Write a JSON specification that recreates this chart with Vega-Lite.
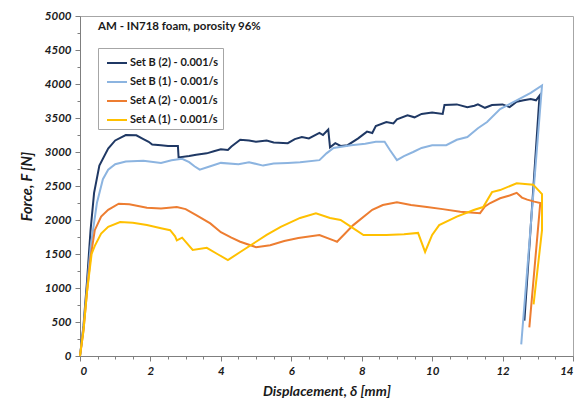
{
"$schema": "https://vega.github.io/schema/vega-lite/v6.json",
"width": 493, "height": 340, "autosize": "none",
"padding": {"left": 80, "top": 16, "right": 11, "bottom": 49},
"background": "white",
"config": {"view": {"stroke": "#A6A6A6", "strokeWidth": 1}, "font": "Lato",
 "axis": {"grid": false, "domainColor": "#7F7F7F", "tickColor": "#7F7F7F", "labelColor": "#1A1A1A", "titleColor": "#1A1A1A"}},
"title": {"text": "AM - IN718 foam, porosity 96%", "anchor": "start", "frame": "group", "orient": "top", "offset": 0, "dx": 18, "dy": 22, "fontSize": 11.5, "fontWeight": "bold", "color": "#1A1A1A", "font": "Lato"},
"data": {"values": [
{"s":"Set B (2) - 0.001/s","i":0,"x":0,"y":0},{"s":"Set B (2) - 0.001/s","i":1,"x":0.1,"y":450},{"s":"Set B (2) - 0.001/s","i":2,"x":0.2,"y":1100},{"s":"Set B (2) - 0.001/s","i":3,"x":0.3,"y":1850},{"s":"Set B (2) - 0.001/s","i":4,"x":0.4,"y":2400},{"s":"Set B (2) - 0.001/s","i":5,"x":0.55,"y":2800},{"s":"Set B (2) - 0.001/s","i":6,"x":0.8,"y":3050},{"s":"Set B (2) - 0.001/s","i":7,"x":1.0,"y":3170},{"s":"Set B (2) - 0.001/s","i":8,"x":1.3,"y":3250},{"s":"Set B (2) - 0.001/s","i":9,"x":1.6,"y":3245},{"s":"Set B (2) - 0.001/s","i":10,"x":1.8,"y":3190},{"s":"Set B (2) - 0.001/s","i":11,"x":1.95,"y":3150},{"s":"Set B (2) - 0.001/s","i":12,"x":2.05,"y":3110},{"s":"Set B (2) - 0.001/s","i":13,"x":2.3,"y":3100},{"s":"Set B (2) - 0.001/s","i":14,"x":2.5,"y":3090},{"s":"Set B (2) - 0.001/s","i":15,"x":2.78,"y":3090},{"s":"Set B (2) - 0.001/s","i":16,"x":2.8,"y":2920},{"s":"Set B (2) - 0.001/s","i":17,"x":3.1,"y":2940},{"s":"Set B (2) - 0.001/s","i":18,"x":3.3,"y":2960},{"s":"Set B (2) - 0.001/s","i":19,"x":3.6,"y":2980},{"s":"Set B (2) - 0.001/s","i":20,"x":3.8,"y":3010},{"s":"Set B (2) - 0.001/s","i":21,"x":4.0,"y":3040},{"s":"Set B (2) - 0.001/s","i":22,"x":4.2,"y":3030},{"s":"Set B (2) - 0.001/s","i":23,"x":4.3,"y":3080},{"s":"Set B (2) - 0.001/s","i":24,"x":4.55,"y":3180},{"s":"Set B (2) - 0.001/s","i":25,"x":4.8,"y":3170},{"s":"Set B (2) - 0.001/s","i":26,"x":5.0,"y":3150},{"s":"Set B (2) - 0.001/s","i":27,"x":5.3,"y":3170},{"s":"Set B (2) - 0.001/s","i":28,"x":5.5,"y":3140},{"s":"Set B (2) - 0.001/s","i":29,"x":5.9,"y":3130},{"s":"Set B (2) - 0.001/s","i":30,"x":6.1,"y":3190},{"s":"Set B (2) - 0.001/s","i":31,"x":6.3,"y":3220},{"s":"Set B (2) - 0.001/s","i":32,"x":6.5,"y":3200},{"s":"Set B (2) - 0.001/s","i":33,"x":6.8,"y":3280},{"s":"Set B (2) - 0.001/s","i":34,"x":6.9,"y":3250},{"s":"Set B (2) - 0.001/s","i":35,"x":7.05,"y":3330},{"s":"Set B (2) - 0.001/s","i":36,"x":7.1,"y":3070},{"s":"Set B (2) - 0.001/s","i":37,"x":7.25,"y":3130},{"s":"Set B (2) - 0.001/s","i":38,"x":7.4,"y":3090},{"s":"Set B (2) - 0.001/s","i":39,"x":7.6,"y":3100},{"s":"Set B (2) - 0.001/s","i":40,"x":7.9,"y":3200},{"s":"Set B (2) - 0.001/s","i":41,"x":8.15,"y":3300},{"s":"Set B (2) - 0.001/s","i":42,"x":8.3,"y":3280},{"s":"Set B (2) - 0.001/s","i":43,"x":8.4,"y":3380},{"s":"Set B (2) - 0.001/s","i":44,"x":8.7,"y":3440},{"s":"Set B (2) - 0.001/s","i":45,"x":8.9,"y":3420},{"s":"Set B (2) - 0.001/s","i":46,"x":9.0,"y":3480},{"s":"Set B (2) - 0.001/s","i":47,"x":9.3,"y":3540},{"s":"Set B (2) - 0.001/s","i":48,"x":9.5,"y":3510},{"s":"Set B (2) - 0.001/s","i":49,"x":9.7,"y":3560},{"s":"Set B (2) - 0.001/s","i":50,"x":10.0,"y":3580},{"s":"Set B (2) - 0.001/s","i":51,"x":10.3,"y":3560},{"s":"Set B (2) - 0.001/s","i":52,"x":10.35,"y":3690},{"s":"Set B (2) - 0.001/s","i":53,"x":10.7,"y":3700},{"s":"Set B (2) - 0.001/s","i":54,"x":11.0,"y":3660},{"s":"Set B (2) - 0.001/s","i":55,"x":11.2,"y":3680},{"s":"Set B (2) - 0.001/s","i":56,"x":11.3,"y":3700},{"s":"Set B (2) - 0.001/s","i":57,"x":11.5,"y":3650},{"s":"Set B (2) - 0.001/s","i":58,"x":11.7,"y":3690},{"s":"Set B (2) - 0.001/s","i":59,"x":12.0,"y":3700},{"s":"Set B (2) - 0.001/s","i":60,"x":12.2,"y":3660},{"s":"Set B (2) - 0.001/s","i":61,"x":12.4,"y":3740},{"s":"Set B (2) - 0.001/s","i":62,"x":12.6,"y":3760},{"s":"Set B (2) - 0.001/s","i":63,"x":12.8,"y":3780},{"s":"Set B (2) - 0.001/s","i":64,"x":12.95,"y":3760},{"s":"Set B (2) - 0.001/s","i":65,"x":13.05,"y":3830},{"s":"Set B (2) - 0.001/s","i":66,"x":12.62,"y":520},
{"s":"Set B (1) - 0.001/s","i":0,"x":0,"y":0},{"s":"Set B (1) - 0.001/s","i":1,"x":0.1,"y":420},{"s":"Set B (1) - 0.001/s","i":2,"x":0.2,"y":1000},{"s":"Set B (1) - 0.001/s","i":3,"x":0.3,"y":1600},{"s":"Set B (1) - 0.001/s","i":4,"x":0.48,"y":2250},{"s":"Set B (1) - 0.001/s","i":5,"x":0.65,"y":2600},{"s":"Set B (1) - 0.001/s","i":6,"x":0.8,"y":2740},{"s":"Set B (1) - 0.001/s","i":7,"x":1.0,"y":2820},{"s":"Set B (1) - 0.001/s","i":8,"x":1.3,"y":2860},{"s":"Set B (1) - 0.001/s","i":9,"x":1.8,"y":2870},{"s":"Set B (1) - 0.001/s","i":10,"x":2.3,"y":2840},{"s":"Set B (1) - 0.001/s","i":11,"x":2.6,"y":2880},{"s":"Set B (1) - 0.001/s","i":12,"x":2.9,"y":2900},{"s":"Set B (1) - 0.001/s","i":13,"x":3.1,"y":2850},{"s":"Set B (1) - 0.001/s","i":14,"x":3.25,"y":2790},{"s":"Set B (1) - 0.001/s","i":15,"x":3.4,"y":2740},{"s":"Set B (1) - 0.001/s","i":16,"x":3.7,"y":2790},{"s":"Set B (1) - 0.001/s","i":17,"x":4.0,"y":2840},{"s":"Set B (1) - 0.001/s","i":18,"x":4.5,"y":2820},{"s":"Set B (1) - 0.001/s","i":19,"x":4.8,"y":2850},{"s":"Set B (1) - 0.001/s","i":20,"x":5.2,"y":2800},{"s":"Set B (1) - 0.001/s","i":21,"x":5.5,"y":2830},{"s":"Set B (1) - 0.001/s","i":22,"x":5.9,"y":2840},{"s":"Set B (1) - 0.001/s","i":23,"x":6.25,"y":2850},{"s":"Set B (1) - 0.001/s","i":24,"x":6.8,"y":2880},{"s":"Set B (1) - 0.001/s","i":25,"x":7.0,"y":2980},{"s":"Set B (1) - 0.001/s","i":26,"x":7.2,"y":3060},{"s":"Set B (1) - 0.001/s","i":27,"x":7.7,"y":3100},{"s":"Set B (1) - 0.001/s","i":28,"x":8.1,"y":3120},{"s":"Set B (1) - 0.001/s","i":29,"x":8.4,"y":3150},{"s":"Set B (1) - 0.001/s","i":30,"x":8.65,"y":3150},{"s":"Set B (1) - 0.001/s","i":31,"x":8.8,"y":3030},{"s":"Set B (1) - 0.001/s","i":32,"x":9.0,"y":2880},{"s":"Set B (1) - 0.001/s","i":33,"x":9.2,"y":2940},{"s":"Set B (1) - 0.001/s","i":34,"x":9.46,"y":3000},{"s":"Set B (1) - 0.001/s","i":35,"x":9.7,"y":3060},{"s":"Set B (1) - 0.001/s","i":36,"x":10.0,"y":3100},{"s":"Set B (1) - 0.001/s","i":37,"x":10.4,"y":3100},{"s":"Set B (1) - 0.001/s","i":38,"x":10.7,"y":3180},{"s":"Set B (1) - 0.001/s","i":39,"x":11.0,"y":3220},{"s":"Set B (1) - 0.001/s","i":40,"x":11.3,"y":3350},{"s":"Set B (1) - 0.001/s","i":41,"x":11.56,"y":3440},{"s":"Set B (1) - 0.001/s","i":42,"x":11.93,"y":3630},{"s":"Set B (1) - 0.001/s","i":43,"x":12.4,"y":3760},{"s":"Set B (1) - 0.001/s","i":44,"x":12.8,"y":3870},{"s":"Set B (1) - 0.001/s","i":45,"x":13.12,"y":3980},{"s":"Set B (1) - 0.001/s","i":46,"x":12.53,"y":170},
{"s":"Set A (2) - 0.001/s","i":0,"x":0,"y":0},{"s":"Set A (2) - 0.001/s","i":1,"x":0.1,"y":380},{"s":"Set A (2) - 0.001/s","i":2,"x":0.2,"y":950},{"s":"Set A (2) - 0.001/s","i":3,"x":0.3,"y":1450},{"s":"Set A (2) - 0.001/s","i":4,"x":0.42,"y":1850},{"s":"Set A (2) - 0.001/s","i":5,"x":0.6,"y":2050},{"s":"Set A (2) - 0.001/s","i":6,"x":0.8,"y":2150},{"s":"Set A (2) - 0.001/s","i":7,"x":1.1,"y":2240},{"s":"Set A (2) - 0.001/s","i":8,"x":1.4,"y":2230},{"s":"Set A (2) - 0.001/s","i":9,"x":1.9,"y":2180},{"s":"Set A (2) - 0.001/s","i":10,"x":2.3,"y":2170},{"s":"Set A (2) - 0.001/s","i":11,"x":2.75,"y":2190},{"s":"Set A (2) - 0.001/s","i":12,"x":3.0,"y":2160},{"s":"Set A (2) - 0.001/s","i":13,"x":3.3,"y":2070},{"s":"Set A (2) - 0.001/s","i":14,"x":3.7,"y":1950},{"s":"Set A (2) - 0.001/s","i":15,"x":4.0,"y":1820},{"s":"Set A (2) - 0.001/s","i":16,"x":4.3,"y":1740},{"s":"Set A (2) - 0.001/s","i":17,"x":4.55,"y":1680},{"s":"Set A (2) - 0.001/s","i":18,"x":5.0,"y":1600},{"s":"Set A (2) - 0.001/s","i":19,"x":5.4,"y":1630},{"s":"Set A (2) - 0.001/s","i":20,"x":5.8,"y":1690},{"s":"Set A (2) - 0.001/s","i":21,"x":6.2,"y":1735},{"s":"Set A (2) - 0.001/s","i":22,"x":6.8,"y":1780},{"s":"Set A (2) - 0.001/s","i":23,"x":7.2,"y":1700},{"s":"Set A (2) - 0.001/s","i":24,"x":7.3,"y":1680},{"s":"Set A (2) - 0.001/s","i":25,"x":7.76,"y":1925},{"s":"Set A (2) - 0.001/s","i":26,"x":8.3,"y":2150},{"s":"Set A (2) - 0.001/s","i":27,"x":8.6,"y":2220},{"s":"Set A (2) - 0.001/s","i":28,"x":9.0,"y":2260},{"s":"Set A (2) - 0.001/s","i":29,"x":9.4,"y":2220},{"s":"Set A (2) - 0.001/s","i":30,"x":9.85,"y":2190},{"s":"Set A (2) - 0.001/s","i":31,"x":10.3,"y":2160},{"s":"Set A (2) - 0.001/s","i":32,"x":10.8,"y":2120},{"s":"Set A (2) - 0.001/s","i":33,"x":11.36,"y":2100},{"s":"Set A (2) - 0.001/s","i":34,"x":11.5,"y":2200},{"s":"Set A (2) - 0.001/s","i":35,"x":11.65,"y":2250},{"s":"Set A (2) - 0.001/s","i":36,"x":11.93,"y":2320},{"s":"Set A (2) - 0.001/s","i":37,"x":12.2,"y":2360},{"s":"Set A (2) - 0.001/s","i":38,"x":12.4,"y":2400},{"s":"Set A (2) - 0.001/s","i":39,"x":12.55,"y":2330},{"s":"Set A (2) - 0.001/s","i":40,"x":12.7,"y":2300},{"s":"Set A (2) - 0.001/s","i":41,"x":12.9,"y":2270},{"s":"Set A (2) - 0.001/s","i":42,"x":13.07,"y":2250},{"s":"Set A (2) - 0.001/s","i":43,"x":12.76,"y":420},
{"s":"Set A (1) - 0.001/s","i":0,"x":0,"y":0},{"s":"Set A (1) - 0.001/s","i":1,"x":0.1,"y":380},{"s":"Set A (1) - 0.001/s","i":2,"x":0.2,"y":950},{"s":"Set A (1) - 0.001/s","i":3,"x":0.33,"y":1500},{"s":"Set A (1) - 0.001/s","i":4,"x":0.42,"y":1620},{"s":"Set A (1) - 0.001/s","i":5,"x":0.6,"y":1800},{"s":"Set A (1) - 0.001/s","i":6,"x":0.8,"y":1900},{"s":"Set A (1) - 0.001/s","i":7,"x":1.14,"y":1970},{"s":"Set A (1) - 0.001/s","i":8,"x":1.5,"y":1960},{"s":"Set A (1) - 0.001/s","i":9,"x":1.9,"y":1925},{"s":"Set A (1) - 0.001/s","i":10,"x":2.3,"y":1880},{"s":"Set A (1) - 0.001/s","i":11,"x":2.56,"y":1850},{"s":"Set A (1) - 0.001/s","i":12,"x":2.7,"y":1760},{"s":"Set A (1) - 0.001/s","i":13,"x":2.75,"y":1700},{"s":"Set A (1) - 0.001/s","i":14,"x":2.9,"y":1740},{"s":"Set A (1) - 0.001/s","i":15,"x":3.2,"y":1560},{"s":"Set A (1) - 0.001/s","i":16,"x":3.6,"y":1590},{"s":"Set A (1) - 0.001/s","i":17,"x":3.9,"y":1500},{"s":"Set A (1) - 0.001/s","i":18,"x":4.2,"y":1410},{"s":"Set A (1) - 0.001/s","i":19,"x":4.55,"y":1530},{"s":"Set A (1) - 0.001/s","i":20,"x":5.0,"y":1680},{"s":"Set A (1) - 0.001/s","i":21,"x":5.3,"y":1780},{"s":"Set A (1) - 0.001/s","i":22,"x":5.7,"y":1900},{"s":"Set A (1) - 0.001/s","i":23,"x":6.25,"y":2030},{"s":"Set A (1) - 0.001/s","i":24,"x":6.7,"y":2100},{"s":"Set A (1) - 0.001/s","i":25,"x":7.1,"y":2030},{"s":"Set A (1) - 0.001/s","i":26,"x":7.4,"y":2000},{"s":"Set A (1) - 0.001/s","i":27,"x":7.7,"y":1900},{"s":"Set A (1) - 0.001/s","i":28,"x":8.05,"y":1780},{"s":"Set A (1) - 0.001/s","i":29,"x":8.7,"y":1780},{"s":"Set A (1) - 0.001/s","i":30,"x":9.2,"y":1790},{"s":"Set A (1) - 0.001/s","i":31,"x":9.6,"y":1810},{"s":"Set A (1) - 0.001/s","i":32,"x":9.8,"y":1530},{"s":"Set A (1) - 0.001/s","i":33,"x":10.0,"y":1780},{"s":"Set A (1) - 0.001/s","i":34,"x":10.2,"y":1925},{"s":"Set A (1) - 0.001/s","i":35,"x":10.7,"y":2050},{"s":"Set A (1) - 0.001/s","i":36,"x":11.2,"y":2150},{"s":"Set A (1) - 0.001/s","i":37,"x":11.45,"y":2190},{"s":"Set A (1) - 0.001/s","i":38,"x":11.7,"y":2410},{"s":"Set A (1) - 0.001/s","i":39,"x":11.93,"y":2440},{"s":"Set A (1) - 0.001/s","i":40,"x":12.4,"y":2540},{"s":"Set A (1) - 0.001/s","i":41,"x":12.87,"y":2520},{"s":"Set A (1) - 0.001/s","i":42,"x":13.12,"y":2380},{"s":"Set A (1) - 0.001/s","i":43,"x":13.12,"y":1850},{"s":"Set A (1) - 0.001/s","i":44,"x":12.88,"y":760}
]},
"layer": [
 {"mark": {"type": "line", "strokeWidth": 2},
  "encoding": {
   "x": {"field": "x", "type": "quantitative", "scale": {"domain": [0, 14], "nice": false},
    "axis": {"values": [0,2,4,6,8,10,12,14], "format": "d", "tickSize": 5, "labelFontSize": 11.5, "labelFontWeight": "bold", "labelFontStyle": "italic", "labelPadding": 4, "title": "Displacement, δ [mm]", "titleFontSize": 14, "titleFontWeight": "bold", "titleFontStyle": "italic", "titlePadding": 8}},
   "y": {"field": "y", "type": "quantitative", "scale": {"domain": [0, 5000], "nice": false},
    "axis": {"values": [0,500,1000,1500,2000,2500,3000,3500,4000,4500,5000], "format": "d", "tickSize": 5, "labelFontSize": 11.5, "labelFontWeight": "bold", "labelFontStyle": "italic", "labelPadding": 4, "title": "Force, F [N]", "titleFontSize": 14.5, "titleFontWeight": "bold", "titleFontStyle": "italic", "titlePadding": 10}},
   "color": {"field": "s", "type": "nominal",
    "scale": {"domain": ["Set B (2) - 0.001/s", "Set B (1) - 0.001/s", "Set A (2) - 0.001/s", "Set A (1) - 0.001/s"], "range": ["#1F3864", "#8CB4E0", "#ED7D31", "#FFC000"]},
    "legend": {"title": null, "orient": "none", "legendX": 18, "legendY": 32, "symbolType": "stroke", "symbolSize": 400, "symbolStrokeWidth": 2, "labelFontSize": 11, "labelFontWeight": "bold", "labelColor": "#1A1A1A", "labelFont": "Lato", "padding": 4, "symbolOffset": 4, "rowPadding": 3, "labelOffset": 2, "strokeColor": "#A6A6A6", "fillColor": "white"}},
   "order": {"field": "i", "type": "quantitative"}
  }},
 {"mark": {"type": "line", "strokeOpacity": 0},
  "encoding": {
   "x": {"field": "x", "type": "quantitative", "scale": {"domain": [0, 14], "nice": false},
    "axis": {"orient": "bottom", "values": [0.5,1,1.5,2.5,3,3.5,4.5,5,5.5,6.5,7,7.5,8.5,9,9.5,10.5,11,11.5,12.5,13,13.5], "tickSize": 3, "labels": false, "domain": false, "title": null}},
   "y": {"field": "y", "type": "quantitative", "scale": {"domain": [0, 5000], "nice": false},
    "axis": {"orient": "left", "values": [250,750,1250,1750,2250,2750,3250,3750,4250,4750], "tickSize": 3, "labels": false, "domain": false, "title": null}},
   "detail": {"field": "s", "type": "nominal"},
   "order": {"field": "i", "type": "quantitative"}
  }}
],
"resolve": {"axis": {"x": "independent", "y": "independent"}}
}
